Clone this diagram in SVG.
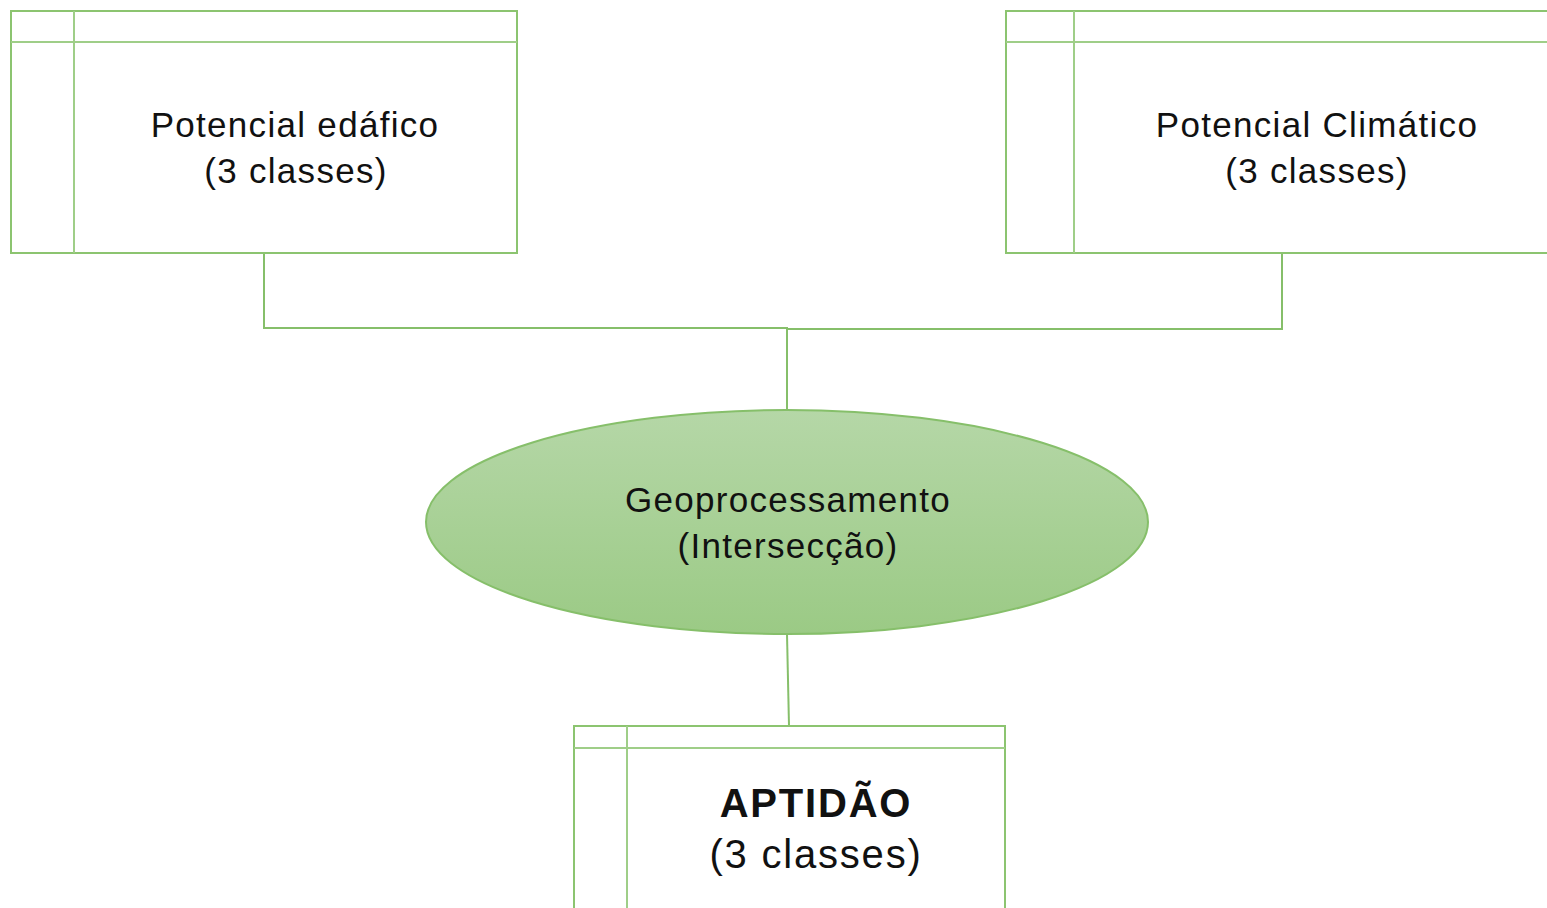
<svg xmlns="http://www.w3.org/2000/svg" width="1547" height="908" viewBox="0 0 1547 908">
<defs>
<linearGradient id="eg" x1="0" y1="0" x2="0" y2="1">
<stop offset="0" stop-color="#b5d7a7"/>
<stop offset="1" stop-color="#9bca85"/>
</linearGradient>
<style>
.box{fill:#fff;stroke:#8cc470;stroke-width:2}
.inner{stroke:#9fce88;stroke-width:2;fill:none}
.conn{stroke:#86bf6a;stroke-width:2;fill:none}
text{font-family:"Liberation Sans",Arial,sans-serif;fill:#111;text-anchor:middle}
.t{font-size:35px;letter-spacing:1.3px}
.tb{font-size:40px;letter-spacing:1.8px}
</style>
</defs>
<rect width="1547" height="908" fill="#fff"/>
<g id="connectors">
<polyline class="conn" points="264,253 264,328 787,328 787,411"/>
<polyline class="conn" points="1282,253 1282,329 787,329"/>
<line class="conn" x1="787" y1="634" x2="789" y2="726"/>
</g>
<g id="node-edafico">
<rect class="box" x="11" y="11" width="506" height="242"/>
<line class="inner" x1="11" y1="42" x2="517" y2="42"/>
<line class="inner" x1="74" y1="11" x2="74" y2="253"/>
<text class="t" x="295" y="137">Potencial edáfico</text>
<text class="t" x="296" y="183">(3 classes)</text>
</g>
<g id="node-climatico">
<rect class="box" x="1006" y="11" width="560" height="242"/>
<line class="inner" x1="1006" y1="42" x2="1547" y2="42"/>
<line class="inner" x1="1074" y1="11" x2="1074" y2="253"/>
<text class="t" x="1317" y="137">Potencial Climático</text>
<text class="t" x="1317" y="183">(3 classes)</text>
</g>
<g id="node-geo">
<ellipse cx="787" cy="522" rx="361" ry="112" fill="url(#eg)" stroke="#86bf6a" stroke-width="2"/>
<text class="t" x="788" y="512">Geoprocessamento</text>
<text class="t" x="788" y="558">(Intersecção)</text>
</g>
<g id="node-aptidao">
<rect class="box" x="574" y="726" width="431" height="200"/>
<line class="inner" x1="574" y1="748" x2="1005" y2="748"/>
<line class="inner" x1="627" y1="726" x2="627" y2="908"/>
<text class="tb" x="816" y="817" font-weight="bold">APTIDÃO</text>
<text class="tb" x="816" y="868">(3 classes)</text>
</g>
</svg>
